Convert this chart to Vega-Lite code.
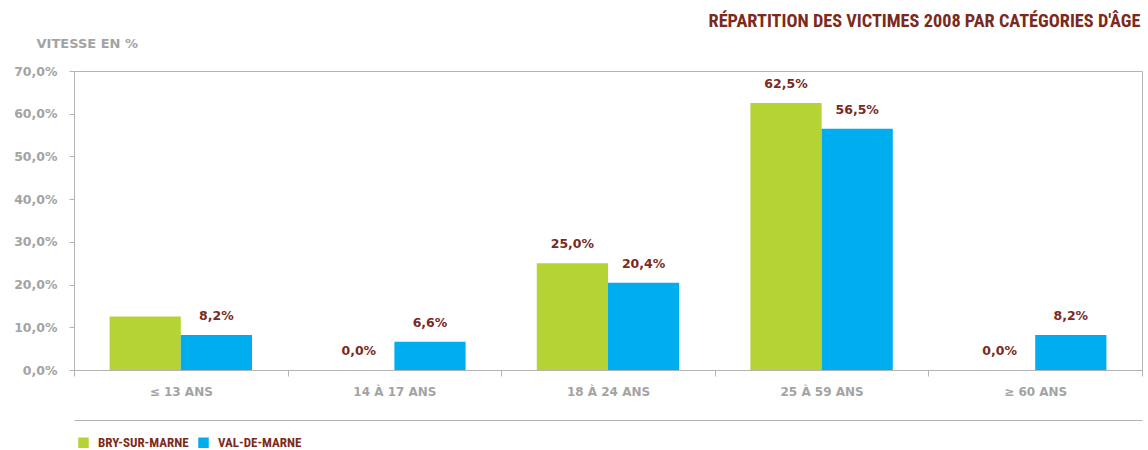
{
  "$schema": "https://vega.github.io/schema/vega-lite/v6.json",
  "width": 1068,
  "height": 299,
  "autosize": {"type": "none"},
  "padding": {"left": 74, "top": 71, "right": 6, "bottom": 80},
  "background": "white",
  "title": {
    "text": "RÉPARTITION DES VICTIMES 2008 PAR CATÉGORIES D'ÂGE",
    "anchor": "end",
    "font": "Roboto Condensed, Liberation Sans Narrow, Roboto",
    "fontSize": 18.3,
    "fontWeight": "bold",
    "color": "#7b2a1c",
    "offset": 6,
    "dx": -2
  },
  "data": {
    "values": [
      {"age": "≤ 13 ANS", "commune": "BRY-SUR-MARNE", "pct": 12.5, "label": ""},
      {"age": "≤ 13 ANS", "commune": "VAL-DE-MARNE", "pct": 8.2, "label": "8,2%"},
      {"age": "14 À 17 ANS", "commune": "BRY-SUR-MARNE", "pct": 0.0, "label": "0,0%"},
      {"age": "14 À 17 ANS", "commune": "VAL-DE-MARNE", "pct": 6.6, "label": "6,6%"},
      {"age": "18 À 24 ANS", "commune": "BRY-SUR-MARNE", "pct": 25.0, "label": "25,0%"},
      {"age": "18 À 24 ANS", "commune": "VAL-DE-MARNE", "pct": 20.4, "label": "20,4%"},
      {"age": "25 À 59 ANS", "commune": "BRY-SUR-MARNE", "pct": 62.5, "label": "62,5%"},
      {"age": "25 À 59 ANS", "commune": "VAL-DE-MARNE", "pct": 56.5, "label": "56,5%"},
      {"age": "≥ 60 ANS", "commune": "BRY-SUR-MARNE", "pct": 0.0, "label": "0,0%"},
      {"age": "≥ 60 ANS", "commune": "VAL-DE-MARNE", "pct": 8.2, "label": "8,2%"}
    ]
  },
  "encoding": {
    "x": {
      "field": "age",
      "type": "nominal",
      "sort": ["≤ 13 ANS", "14 À 17 ANS", "18 À 24 ANS", "25 À 59 ANS", "≥ 60 ANS"],
      "scale": {"paddingInner": 0, "paddingOuter": 0}
    },
    "xOffset": {
      "field": "commune",
      "type": "nominal",
      "sort": ["BRY-SUR-MARNE", "VAL-DE-MARNE"],
      "scale": {"paddingInner": 0, "paddingOuter": 0.5}
    },
    "y": {
      "field": "pct",
      "type": "quantitative",
      "scale": {"domain": [0, 70], "nice": false},
      "axis": {
        "values": [0, 10, 20, 30, 40, 50, 60, 70],
        "labelExpr": "replace(format(datum.value, '.1f'), '.', ',') + '%'",
        "grid": false,
        "domain": true,
        "domainColor": "#b4b4b4",
        "tickColor": "#b4b4b4",
        "tickSize": 5,
        "labelPadding": 12,
        "labelFont": "DejaVu Sans",
        "labelFontWeight": "bold",
        "labelFontSize": 12.5,
        "labelColor": "#a3a3a3",
        "title": "VITESSE EN %",
        "titleFont": "DejaVu Sans",
        "titleFontWeight": "bold",
        "titleFontSize": 13,
        "titleColor": "#a3a3a3",
        "titleAngle": 0,
        "titleAlign": "left",
        "titleBaseline": "middle",
        "titleX": -38,
        "titleY": -28
      }
    }
  },
  "layer": [
    {
      "mark": {"type": "bar"},
      "encoding": {
        "x": {
          "field": "age",
          "type": "nominal",
          "sort": ["≤ 13 ANS", "14 À 17 ANS", "18 À 24 ANS", "25 À 59 ANS", "≥ 60 ANS"],
          "axis": {
            "title": null,
            "labelAngle": 0,
            "domain": true,
            "domainColor": "#b4b4b4",
            "ticks": true,
            "tickBand": "extent",
            "tickColor": "#b4b4b4",
            "tickSize": 6,
            "labelPadding": 10,
            "labelFont": "DejaVu Sans",
            "labelFontWeight": "bold",
            "labelFontSize": 12,
            "labelColor": "#a3a3a3"
          }
        },
        "color": {
          "field": "commune",
          "type": "nominal",
          "sort": ["BRY-SUR-MARNE", "VAL-DE-MARNE"],
          "scale": {"range": ["#b5d334", "#00adee"]},
          "legend": {
            "title": null,
            "orient": "none",
            "legendX": 3,
            "legendY": 365,
            "direction": "horizontal",
            "columns": 2,
            "symbolType": "square",
            "symbolSize": 110,
            "symbolStrokeWidth": 0,
            "columnPadding": 8,
            "labelOffset": 8,
            "labelFont": "Roboto Condensed, Liberation Sans Narrow, Roboto",
            "labelFontWeight": "bold",
            "labelFontSize": 13,
            "labelColor": "#7b2a1c"
          }
        }
      }
    },
    {
      "mark": {
        "type": "text",
        "dy": -19,
        "baseline": "middle",
        "align": "center",
        "font": "DejaVu Sans",
        "fontWeight": "bold",
        "fontSize": 12.5,
        "color": "#7b2a1c"
      },
      "encoding": {
        "x": {
          "field": "age",
          "type": "nominal",
          "sort": ["≤ 13 ANS", "14 À 17 ANS", "18 À 24 ANS", "25 À 59 ANS", "≥ 60 ANS"],
          "axis": {
            "orient": "bottom",
            "offset": 50,
            "title": null,
            "labels": false,
            "ticks": false,
            "domain": true,
            "domainColor": "#b4b4b4"
          }
        },
        "text": {"field": "label"}
      }
    }
  ],
  "resolve": {"axis": {"x": "independent"}},
  "config": {
    "view": {"stroke": "#b4b4b4", "strokeWidth": 1}
  }
}
